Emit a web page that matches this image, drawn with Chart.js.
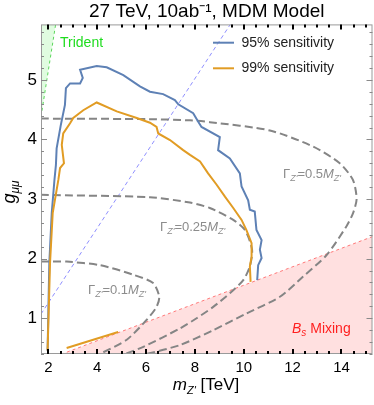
<!DOCTYPE html>
<html>
<head>
<meta charset="utf-8">
<script src="https://cdn.jsdelivr.net/npm/chart.js@4"></script>
<style>
  html, body { margin: 0; padding: 0; background: #fff; }
</style>
</head>
<body>
<canvas id="chart" width="374" height="405"></canvas>
<script>
// ---- data ----
const xTicks = [2, 4, 6, 8, 10, 12, 14];
const yTicks = [1, 2, 3, 4, 5];

// 95% sensitivity contour
const sens95X = [1.97, 2.04, 2.14, 2.25, 2.31, 2.34, 2.51, 2.68, 2.72, 2.89, 3.30, 3.41, 3.30, 3.98, 4.39, 5.07, 5.75, 6.16, 6.70, 7.18, 7.32, 7.93, 8.13, 8.27, 9.02, 8.95, 9.43, 9.84, 9.91, 10.18, 10.25, 10.45, 10.52, 10.73, 10.66, 10.73, 10.59, 10.55];
const sens95Y = [0.46, 1.92, 2.77, 3.32, 3.57, 3.85, 4.24, 4.58, 4.86, 4.94, 4.94, 5.03, 5.17, 5.23, 5.21, 5.08, 4.89, 4.80, 4.76, 4.66, 4.59, 4.44, 4.30, 4.21, 4.04, 3.82, 3.68, 3.43, 3.21, 2.98, 2.82, 2.79, 2.48, 2.31, 2.15, 2.01, 1.89, 1.64];

// 99% sensitivity contour (main piece + small piece near the Bs line)
const sens99X = [1.97, 2.07, 2.18, 2.41, 2.48, 2.64, 2.55, 2.61, 2.89, 3.02, 3.43, 3.98, 4.80, 5.62, 6.16, 6.43, 6.50, 6.98, 7.52, 7.80, 8.21, 8.54, 8.89, 9.23, 9.57, 9.91, 10.11, 10.32, 10.32, 10.25, 10.28];
const sens99Y = [0.46, 1.93, 2.77, 3.32, 3.52, 3.60, 3.91, 4.10, 4.27, 4.36, 4.49, 4.62, 4.47, 4.36, 4.28, 4.21, 4.10, 3.99, 3.82, 3.74, 3.63, 3.43, 3.24, 3.04, 2.85, 2.65, 2.48, 2.26, 2.03, 1.87, 1.61];
const sens99LowX = [2.75, 4.86];
const sens99LowY = [0.50, 0.77];

// width contours
const gamma05X = [1.70, 6.16, 7.80, 8.61, 11.07, 12.84, 13.93, 14.47, 14.62, 14.47, 14.20, 13.39, 12.43, 11.48, 10.11, 8.75, 7.39, 6.02];
const gamma05Y = [4.35, 4.34, 4.32, 4.29, 4.15, 3.88, 3.60, 3.32, 3.00, 2.76, 2.54, 2.06, 1.70, 1.36, 1.08, 0.80, 0.55, 0.40];
const gamma025X = [1.70, 6.16, 7.80, 8.61, 9.57, 10.05, 10.34, 10.25, 9.98, 9.43, 8.75, 8.07, 7.39, 5.89, 5.14];
const gamma025Y = [3.07, 3.03, 2.94, 2.85, 2.65, 2.48, 2.15, 1.87, 1.64, 1.42, 1.19, 1.00, 0.83, 0.52, 0.40];
const gamma01X = [1.70, 2.75, 4.11, 5.48, 6.29, 6.54, 6.43, 6.02, 5.21, 4.11];
const gamma01Y = [1.95, 1.95, 1.89, 1.73, 1.59, 1.36, 1.19, 0.97, 0.64, 0.40];

// straight boundaries
const diagX = [1.70, 9.45];
const diagY = [1.07, 5.93];
const bsX = [2.30, 15.27];
const bsY = [0.36, 2.37];
const tridentX = [1.70, 2.30];
const tridentY = [4.38, 5.93];

// ---- styling ----
const FONT = '"Liberation Sans", Arial, sans-serif';
const BLUE = '#5e81b5';
const ORANGE = '#e19c24';
const GRAY = '#858585';

const xy = (xs, ys) => xs.map((v, i) => ({ x: v, y: ys[i] }));

function partsWidth(ctx, parts) {
  let w = 0;
  for (const p of parts) { ctx.font = p[1]; w += ctx.measureText(p[0]).width; }
  return w;
}
function richText(ctx, x, y, parts, color, center) {
  ctx.fillStyle = color;
  ctx.textBaseline = 'alphabetic';
  ctx.textAlign = 'left';
  let cx = center ? x - partsWidth(ctx, parts) / 2 : x;
  for (const p of parts) {
    ctx.font = p[1];
    ctx.fillText(p[0], cx, y + (p[2] || 0));
    cx += ctx.measureText(p[0]).width;
  }
}
const gammaLabel = (val) => [
  ['Γ', '13px ' + FONT], ["Z'", 'italic 9px ' + FONT, 3], ['=' + val, '13px ' + FONT],
  ['M', 'italic 13px ' + FONT], ["Z'", 'italic 9px ' + FONT, 3]
];

// inward ticks + frame, Mathematica style
const frameTicks = {
  id: 'frameTicks',
  afterDatasetsDraw(chart) {
    const { ctx, chartArea: a, scales: { x, y } } = chart;
    const seg = (x1, y1, x2, y2) => { ctx.beginPath(); ctx.moveTo(x1, y1); ctx.lineTo(x2, y2); ctx.stroke(); };
    ctx.save();
    ctx.strokeStyle = '#9a9a9a';
    ctx.lineWidth = 1;
    ctx.strokeRect(a.left + 0.5, a.top + 0.5, a.right - a.left - 1, a.bottom - a.top - 1);
    // x ticks every 0.5, major every 2
    ctx.strokeStyle = '#000';
    ctx.lineWidth = 2;
    for (let i = 4; i <= 30; i++) {
      const px = Math.round(x.getPixelForValue(i / 2));
      const len = i % 4 === 0 ? 5 : 3;
      seg(px, a.bottom, px, a.bottom - len);
      seg(px, a.top, px, a.top + len);
    }
    // y ticks every 0.2, major every 1
    ctx.strokeStyle = '#8a8a8a';
    ctx.lineWidth = 1;
    for (let i = 2; i <= 29; i++) {
      const py = Math.round(y.getPixelForValue(i / 5)) + 0.5;
      const len = i % 5 === 0 ? 6 : 3;
      seg(a.left, py, a.left + len, py);
      seg(a.right, py, a.right - len, py);
    }
    ctx.restore();
  },
  afterDraw(chart) {
    const { ctx } = chart;
    ctx.save();
    // axis titles
    richText(ctx, 206, 390, [['m', 'italic 17px ' + FONT], ["Z'", 'italic 11px ' + FONT, 4], [' [TeV]', '17px ' + FONT]], '#000', true);
    ctx.save();
    ctx.translate(15, 192);
    ctx.rotate(-Math.PI / 2);
    richText(ctx, 0, 0, [['g', 'italic 18px ' + FONT], ['μμ', 'italic 12px ' + FONT, 4]], '#000', true);
    ctx.restore();
    // region labels
    ctx.font = '14px ' + FONT;
    ctx.fillStyle = '#1edc1e';
    ctx.fillText('Trident', 60, 47);
    richText(ctx, 292, 333, [['B', 'italic 14px ' + FONT], ['s', 'italic 10px ' + FONT, 3], [' Mixing', '14px ' + FONT]], '#ff1f1f');
    // width labels
    richText(ctx, 283, 178, gammaLabel('0.5'), '#8c8c8c');
    richText(ctx, 160, 230.5, gammaLabel('0.25'), '#8c8c8c');
    richText(ctx, 88, 293.5, gammaLabel('0.1'), '#8c8c8c');
    // legend
    const legend = [['95% sensitivity', BLUE, 42.7], ['99% sensitivity', ORANGE, 68.3]];
    for (const [label, color, ly] of legend) {
      ctx.strokeStyle = color;
      ctx.lineWidth = 2;
      ctx.beginPath(); ctx.moveTo(213, ly); ctx.lineTo(234, ly); ctx.stroke();
      ctx.font = '14px ' + FONT;
      ctx.fillStyle = '#222';
      ctx.textBaseline = 'middle';
      ctx.fillText(label, 241.5, ly);
    }
    ctx.restore();
  }
};

const curve = (data, color, order, extra) => Object.assign({
  data, borderColor: color, borderWidth: 2, pointRadius: 0, fill: false, tension: 0, order
}, extra || {});
const gammaCurve = (xs, ys) => curve(xy(xs, ys), GRAY, 5, { borderDash: [8, 4], tension: 0.25 });

new Chart(document.getElementById('chart'), {
  type: 'line',
  data: {
    datasets: [
      curve(xy(sens99X, sens99Y), ORANGE, 1),
      curve(xy(sens99LowX, sens99LowY), ORANGE, 1),
      curve(xy(sens95X, sens95Y), BLUE, 2),
      gammaCurve(gamma05X, gamma05Y),
      gammaCurve(gamma025X, gamma025Y),
      gammaCurve(gamma01X, gamma01Y),
      curve(xy(diagX, diagY), '#8f8fff', 6, { borderWidth: 1, borderDash: [4, 3] }),
      curve(xy(bsX, bsY), 'rgba(255,80,80,0.75)', 9, { borderWidth: 1, borderDash: [3, 3], fill: 'start', backgroundColor: 'rgba(255,0,0,0.12)' }),
      curve(xy(tridentX, tridentY), 'rgba(40,200,40,0.75)', 9, { borderWidth: 1, borderDash: [3, 3], fill: 'end', backgroundColor: 'rgba(0,230,0,0.12)' })
    ]
  },
  options: {
    responsive: false,
    devicePixelRatio: 1,
    animation: false,
    layout: { padding: { left: 0, right: 1.5, top: 0, bottom: 0 } },
    plugins: {
      legend: { display: false },
      tooltip: { enabled: false },
      title: {
        display: true,
        fullSize: false,
        text: '27 TeV, 10ab\u207B\u00B9, MDM Model',
        color: '#000',
        font: { family: FONT, size: 19, weight: 'normal', lineHeight: 1.1 },
        padding: { top: 1.5, bottom: 2 }
      }
    },
    scales: {
      x: {
        type: 'linear',
        min: 1.70,
        max: 15.27,
        afterBuildTicks: (s) => { s.ticks = xTicks.map((v) => ({ value: v })); },
        afterFit: (s) => { s.height = 51; },
        grid: { display: false, drawTicks: false },
        border: { display: false },
        ticks: { color: '#000', padding: 5, maxRotation: 0, autoSkip: false, font: { family: FONT, size: 15 } }
      },
      y: {
        type: 'linear',
        min: 0.40,
        max: 5.93,
        afterBuildTicks: (s) => { s.ticks = yTicks.map((v) => ({ value: v })); },
        afterFit: (s) => { s.width = 41; },
        grid: { display: false, drawTicks: false },
        border: { display: false },
        ticks: { color: '#000', padding: 4, autoSkip: false, font: { family: FONT, size: 17 } }
      }
    }
  },
  plugins: [frameTicks]
});
</script>
</body>
</html>
